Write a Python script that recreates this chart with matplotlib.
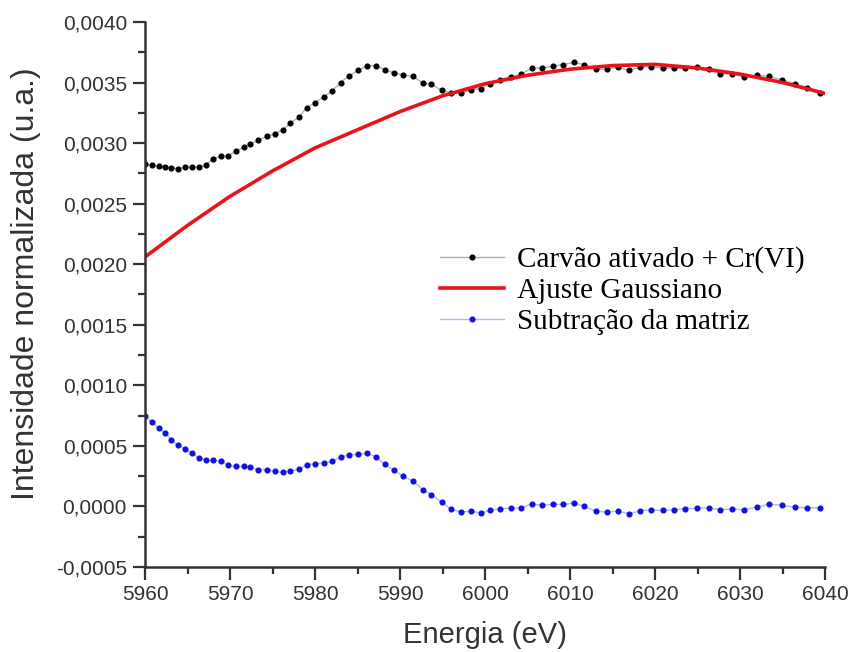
import matplotlib
matplotlib.use("Agg")
import matplotlib.pyplot as plt
from matplotlib.ticker import FuncFormatter, MultipleLocator

# energy grid shared by the measured curve and the subtracted curve [eV]
energy = [5960.0, 5960.8, 5961.6, 5962.4, 5963.1, 5963.9, 5964.7, 5965.5, 5966.4, 5967.2,
          5968.0, 5968.9, 5969.8, 5970.7, 5971.6, 5972.4, 5973.3, 5974.3, 5975.3, 5976.2,
          5977.1, 5978.1, 5979.0, 5980.0, 5981.0, 5982.0, 5983.0, 5984.0, 5985.1, 5986.1,
          5987.2, 5988.2, 5989.3, 5990.4, 5991.5, 5992.7, 5993.7, 5994.9, 5996.0, 5997.2,
          5998.3, 5999.5, 6000.6, 6001.8, 6003.0, 6004.2, 6005.5, 6006.7, 6008.0, 6009.2,
          6010.5, 6011.7, 6013.0, 6014.3, 6015.6, 6016.9, 6018.2, 6019.5, 6020.9, 6022.2,
          6023.5, 6024.9, 6026.3, 6027.7, 6029.0, 6030.5, 6032.0, 6033.4, 6034.9, 6036.5,
          6037.9, 6039.4]

carvao_cr = [0.002830, 0.002816, 0.002807, 0.002802, 0.002796, 0.002788, 0.002802, 0.002802,
             0.002802, 0.002821, 0.002871, 0.002890, 0.002896, 0.002934, 0.002967, 0.002995,
             0.003022, 0.003055, 0.003077, 0.003110, 0.003165, 0.003215, 0.003292, 0.003335,
             0.003380, 0.003430, 0.003500, 0.003555, 0.003600, 0.003640, 0.003640, 0.003606,
             0.003580, 0.003560, 0.003552, 0.003495, 0.003485, 0.003435, 0.003413, 0.003413,
             0.003440, 0.003449, 0.003490, 0.003523, 0.003545, 0.003567, 0.003620, 0.003620,
             0.003635, 0.003648, 0.003668, 0.003645, 0.003610, 0.003610, 0.003625, 0.003600,
             0.003625, 0.003632, 0.003618, 0.003618, 0.003618, 0.003630, 0.003614, 0.003573,
             0.003573, 0.003545, 0.003559, 0.003550, 0.003523, 0.003490, 0.003457, 0.003413]

subtracao = [0.000743, 0.000696, 0.000650, 0.000606, 0.000551, 0.000504, 0.000476, 0.000440,
             0.000399, 0.000380, 0.000380, 0.000374, 0.000339, 0.000330, 0.000330, 0.000325,
             0.000303, 0.000303, 0.000289, 0.000281, 0.000292, 0.000306, 0.000344, 0.000352,
             0.000358, 0.000372, 0.000407, 0.000427, 0.000429, 0.000440, 0.000407, 0.000347,
             0.000297, 0.000248, 0.000209, 0.000138, 0.000097, 0.000036, -0.000022, -0.000047,
             -0.000039, -0.000055, -0.000033, -0.000019, -0.000014, -0.000014, 0.000022, 0.000008,
             0.000017, 0.000017, 0.000028, 0.000000, -0.000039, -0.000047, -0.000039, -0.000060,
             -0.000039, -0.000028, -0.000033, -0.000028, -0.000019, -0.000014, -0.000014, -0.000028,
             -0.000022, -0.000028, -0.000005, 0.000017, 0.000011, -0.000008, -0.000011, -0.000011]

# gaussian fit
fit_energy = [5960, 5965, 5970, 5975, 5980, 5985, 5990, 5995, 6000, 6005,
              6010, 6015, 6020, 6025, 6030, 6035, 6040]
fit_values = [0.00206, 0.00232, 0.00256, 0.00277, 0.00296, 0.00311, 0.00326, 0.00339, 0.00349,
              0.00356, 0.00361, 0.00364, 0.00365, 0.00362, 0.00357, 0.00350, 0.00341]

fig = plt.figure(figsize=(8.5, 6.52), dpi=100)
ax = fig.add_axes([0.1706, 0.1304, 0.80, 0.8359])

ax.plot(energy, carvao_cr, color="#b0b0b0", lw=1.0, marker="o", ms=3.4,
        mfc="black", mec="black", label="Carvão ativado + Cr(VI)")
ax.plot(fit_energy, fit_values, color="#e8141c", lw=2.6, label="Ajuste Gaussiano")
ax.plot(energy, subtracao, color="#b4b4ff", lw=1.0, marker="o", ms=3.4,
        mfc="#1010e0", mec="#1010e0", label="Subtração da matriz")

ax.set_xlim(5960, 6040)
ax.set_ylim(-0.0005, 0.0040)
ax.xaxis.set_major_locator(MultipleLocator(10))
ax.xaxis.set_minor_locator(MultipleLocator(5))
ax.yaxis.set_major_locator(MultipleLocator(0.0005))
ax.yaxis.set_minor_locator(MultipleLocator(0.00025))
ax.yaxis.set_major_formatter(FuncFormatter(lambda v, p: "{:.4f}".format(v).replace(".", ",")))

for side in ["top", "right"]:
    ax.spines[side].set_visible(False)
for side in ["left", "bottom"]:
    ax.spines[side].set_linewidth(1.8)
    ax.spines[side].set_color("#333333")

ax.tick_params(which="major", direction="out", length=9, width=1.6, color="#333333",
               labelsize=15, labelcolor="#333333", pad=4)
ax.tick_params(which="minor", direction="out", length=5, width=1.6, color="#333333")
for lab in ax.get_xticklabels() + ax.get_yticklabels():
    lab.set_family("Liberation Sans")

ax.set_xlabel("Energia (eV)", fontsize=21, family="Liberation Sans", color="#333333", labelpad=12)
ax.set_ylabel("Intensidade normalizada (u.a.)", fontsize=23, family="Liberation Sans",
              color="#333333")
ax.yaxis.set_label_coords(-0.153, 0.52)

leg = ax.legend(loc="upper left", bbox_to_anchor=(0.416, 0.61), frameon=False,
                prop={"family": "Liberation Serif", "size": 21}, handlelength=2.2,
                handletextpad=0.45, labelspacing=0.15, borderaxespad=0)

fig.savefig("out.png", dpi=100)
